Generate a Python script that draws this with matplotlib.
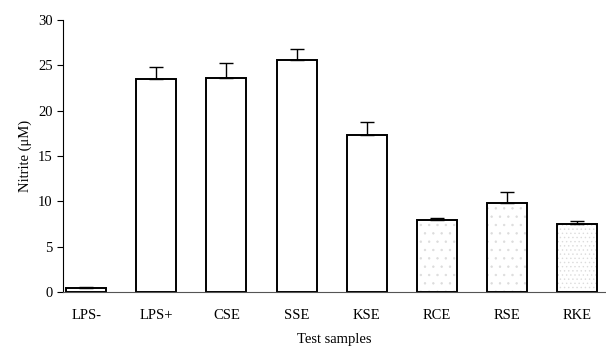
import matplotlib.pyplot as plt
import numpy as np

samples = ["LPS-", "LPS+", "CSE", "SSE", "KSE", "RCE", "RSE", "RKE"]
nitrite = [0.4, 23.5, 23.6, 25.6, 17.3, 7.9, 9.8, 7.5]
errors = [0.2, 1.3, 1.7, 1.2, 1.4, 0.3, 1.2, 0.3]
stipple = ["", "", "", "", "", "..", "..", "...."]

plt.rcParams["font.family"] = ["Liberation Serif", "DejaVu Serif"]
plt.rcParams["hatch.linewidth"] = 0.5

fig = plt.figure(figsize=(6.06, 3.53), dpi=100)
ax = fig.add_axes([63 / 606, 61 / 353, 1 - 63 / 606, 272 / 353])

x = np.arange(len(samples))
width = 0.57

# light stippled fill for the extract bars, then the black outlines on top
for xi, val, h in zip(x, nitrite, stipple):
    if h:
        ax.bar(xi, val, width, color="white", hatch=h, edgecolor="#dcdcdc", linewidth=0, zorder=1)
ax.bar(x, nitrite, width, color="none", edgecolor="black", linewidth=1.4, zorder=2)
ax.errorbar(x, nitrite, yerr=[np.zeros(len(errors)), errors], fmt="none",
            ecolor="black", elinewidth=1.0, capsize=5, capthick=1.0, zorder=3)

ax.set_xlim(-0.33, 7.41)
ax.set_ylim(0, 30)
ax.set_yticks([0, 5, 10, 15, 20, 25, 30])
ax.set_xticks(x)
ax.set_xticklabels(samples, fontsize=10.5)
ax.tick_params(axis="x", length=0, pad=12)
ax.tick_params(axis="y", direction="out", length=4, width=0.8, labelsize=10.5)
for s in ["top", "right"]:
    ax.spines[s].set_visible(False)
ax.spines["left"].set_linewidth(0.8)
ax.spines["bottom"].set_linewidth(0.8)
ax.spines["bottom"].set_color("#555555")

ax.set_ylabel("Nitrite (\u03bcM)", fontsize=10.5)
ax.set_xlabel("Test samples", fontsize=10.5, labelpad=8)

fig.savefig("out.png", dpi=100)
